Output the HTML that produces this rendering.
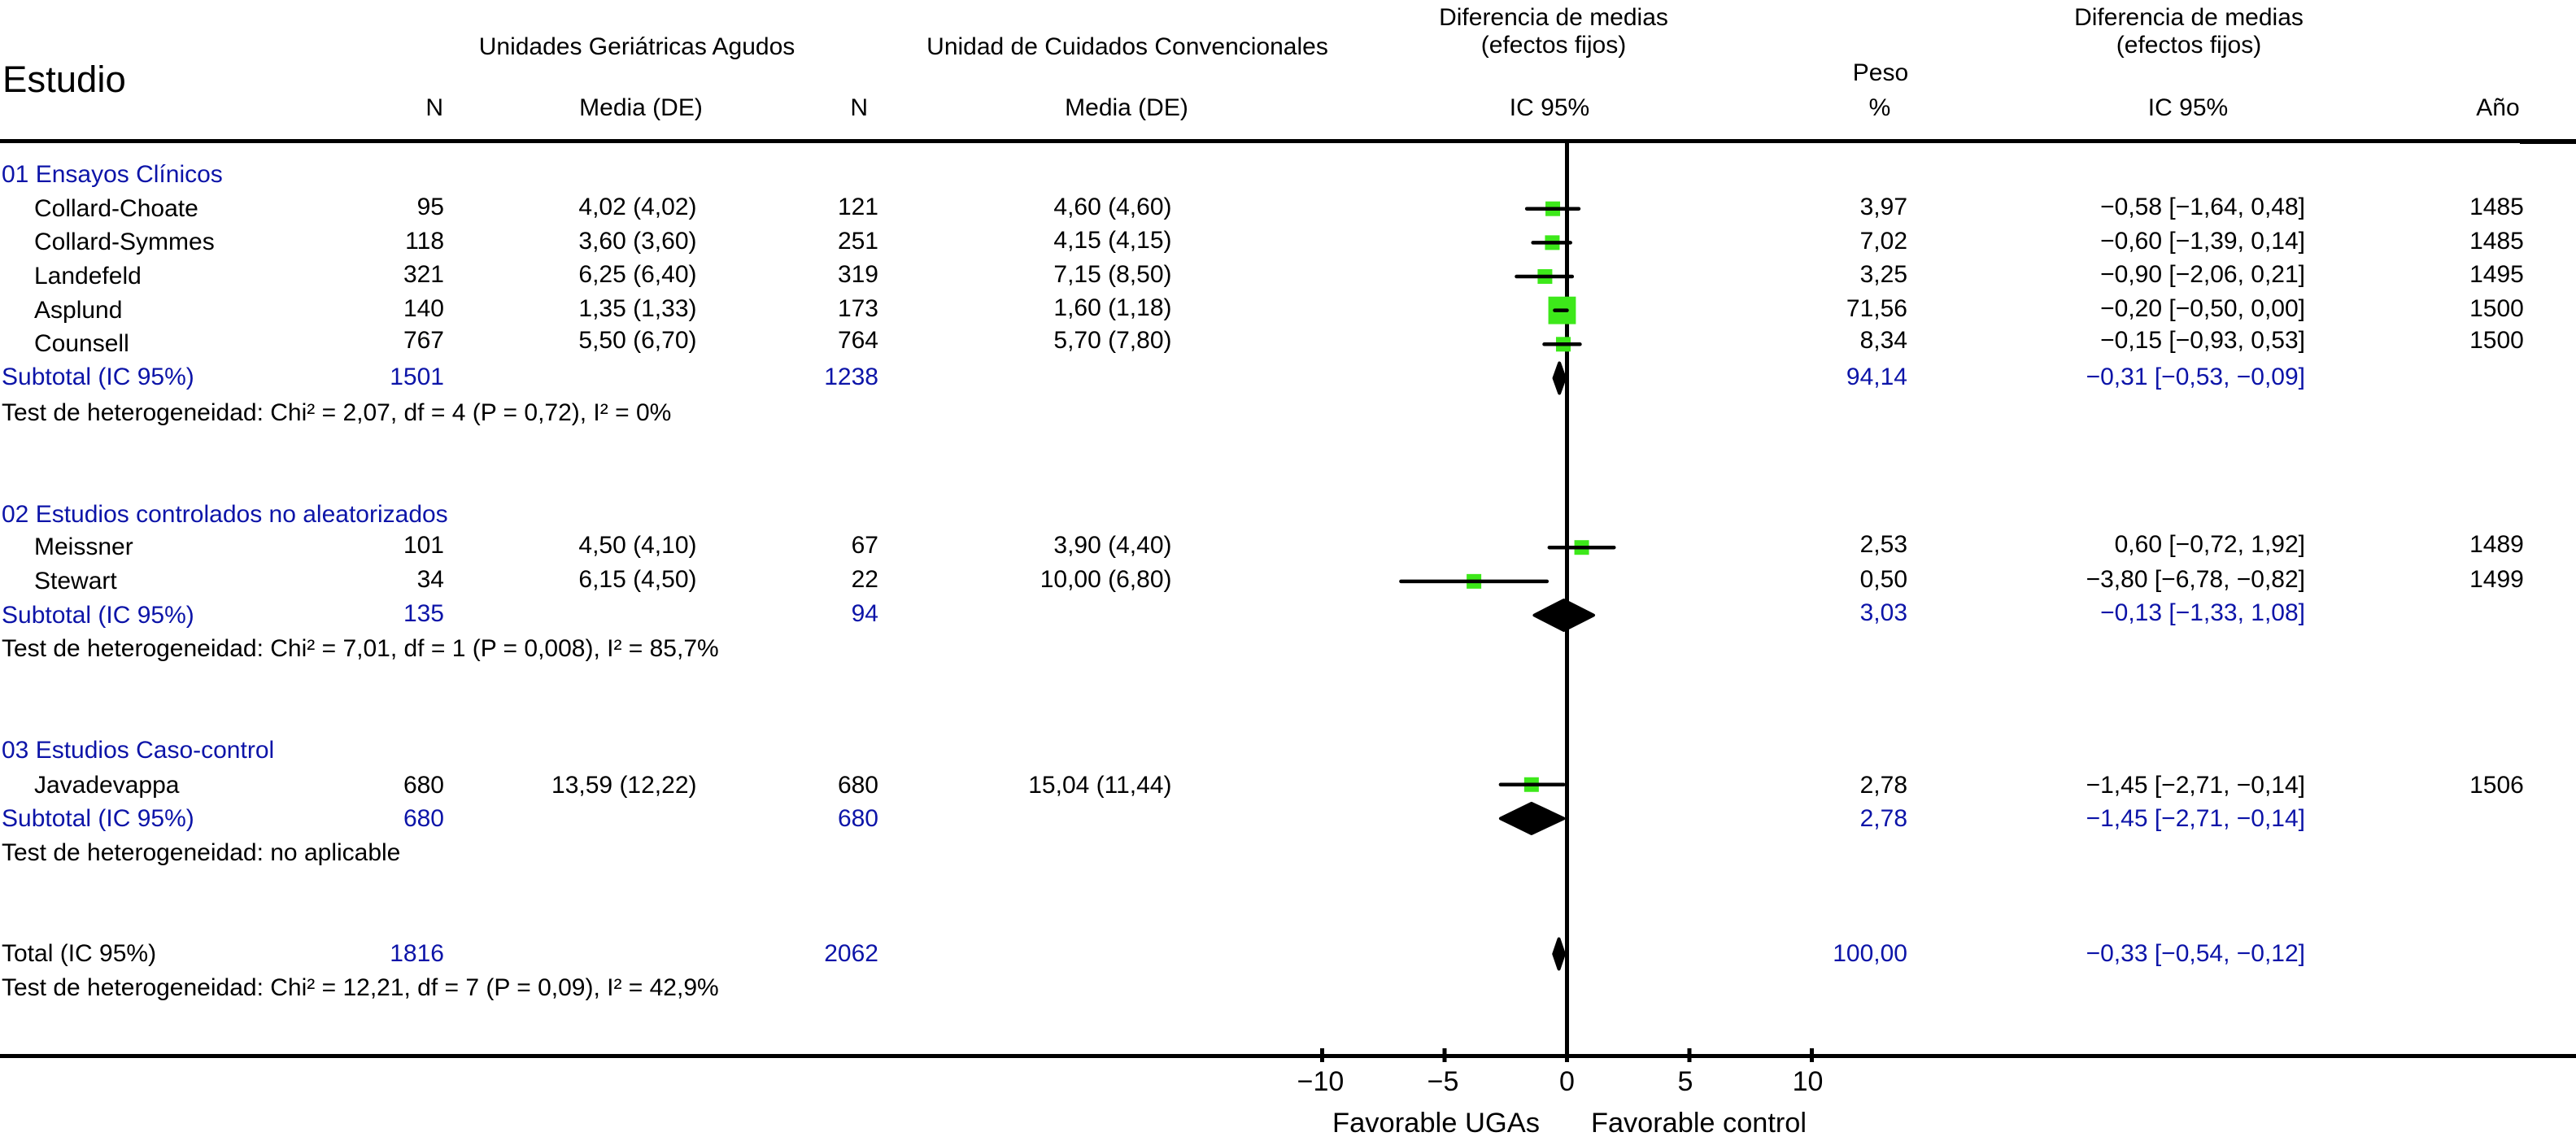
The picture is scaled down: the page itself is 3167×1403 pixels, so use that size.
<!DOCTYPE html>
<html lang="es">
<head>
<meta charset="utf-8">
<title>Diagrama de bosque</title>
<style>
html,body{margin:0;padding:0;background:#fff;}
svg{display:block;}
text{font-family:"Liberation Sans",Arial,sans-serif;font-size:30px;fill:#000;}
.b{fill:#0c14a8;}
.r{text-anchor:end;}
.m{text-anchor:middle;}
</style>
</head>
<body>
<svg id="forest" xmlns="http://www.w3.org/2000/svg" width="3167" height="1403" viewBox="0 0 3167 1403">
<rect x="0" y="0" width="3167" height="1403" fill="#fff"/>

<!-- header -->
<text x="3" y="113" style="font-size:45.5px">Estudio</text>
<text class="m" x="783" y="67">Unidades Geriátricas Agudos</text>
<text class="m" x="1386" y="67">Unidad de Cuidados Convencionales</text>
<text class="m" x="1910" y="31">Diferencia de medias</text>
<text class="m" x="1910" y="65">(efectos fijos)</text>
<text class="m" x="2691" y="31">Diferencia de medias</text>
<text class="m" x="2691" y="65">(efectos fijos)</text>
<text class="m" x="2312" y="99">Peso</text>
<text class="r" x="545" y="142">N</text>
<text class="m" x="788" y="142">Media (DE)</text>
<text class="r" x="1067" y="142">N</text>
<text class="m" x="1385" y="142">Media (DE)</text>
<text class="m" x="1905" y="142">IC 95%</text>
<text class="m" x="2311" y="142">%</text>
<text class="m" x="2690" y="142">IC 95%</text>
<text class="m" x="3071" y="142">Año</text>

<!-- group 01 -->
<text class="b" x="2" y="224">01 Ensayos Clínicos</text>

<text x="42" y="266">Collard-Choate</text>
<text class="r" x="546" y="264">95</text>
<text class="r" x="856.5" y="264">4,02 (4,02)</text>
<text class="r" x="1080" y="264">121</text>
<text class="r" x="1440.5" y="264">4,60 (4,60)</text>
<text class="r" x="2345" y="264">3,97</text>
<text class="r" x="2834" y="264">−0,58 [−1,64, 0,48]</text>
<text class="m" x="3069.5" y="264">1485</text>

<text x="42" y="307">Collard-Symmes</text>
<text class="r" x="546" y="306">118</text>
<text class="r" x="856.5" y="306">3,60 (3,60)</text>
<text class="r" x="1080" y="306">251</text>
<text class="r" x="1440.5" y="305">4,15 (4,15)</text>
<text class="r" x="2345" y="306">7,02</text>
<text class="r" x="2834" y="306">−0,60 [−1,39, 0,14]</text>
<text class="m" x="3069.5" y="306">1485</text>

<text x="42" y="349">Landefeld</text>
<text class="r" x="546" y="347">321</text>
<text class="r" x="856.5" y="347">6,25 (6,40)</text>
<text class="r" x="1080" y="347">319</text>
<text class="r" x="1440.5" y="347">7,15 (8,50)</text>
<text class="r" x="2345" y="347">3,25</text>
<text class="r" x="2834" y="347">−0,90 [−2,06, 0,21]</text>
<text class="m" x="3069.5" y="347">1495</text>

<text x="42" y="391">Asplund</text>
<text class="r" x="546" y="389">140</text>
<text class="r" x="856.5" y="389">1,35 (1,33)</text>
<text class="r" x="1080" y="389">173</text>
<text class="r" x="1440.5" y="388">1,60 (1,18)</text>
<text class="r" x="2345" y="389">71,56</text>
<text class="r" x="2834" y="389">−0,20 [−0,50, 0,00]</text>
<text class="m" x="3069.5" y="389">1500</text>

<text x="42" y="432">Counsell</text>
<text class="r" x="546" y="428">767</text>
<text class="r" x="856.5" y="428">5,50 (6,70)</text>
<text class="r" x="1080" y="428">764</text>
<text class="r" x="1440.5" y="428">5,70 (7,80)</text>
<text class="r" x="2345" y="428">8,34</text>
<text class="r" x="2834" y="428">−0,15 [−0,93, 0,53]</text>
<text class="m" x="3069.5" y="428">1500</text>

<text class="b" x="2" y="473">Subtotal (IC 95%)</text>
<text class="b r" x="546" y="473">1501</text>
<text class="b r" x="1080" y="473">1238</text>
<text class="b r" x="2345" y="473">94,14</text>
<text class="b r" x="2834" y="473">−0,31 [−0,53, −0,09]</text>
<text x="2" y="517">Test de heterogeneidad: Chi² = 2,07, df = 4 (P = 0,72), I² = 0%</text>

<!-- group 02 -->
<text class="b" x="2" y="642">02 Estudios controlados no aleatorizados</text>

<text x="42" y="682">Meissner</text>
<text class="r" x="546" y="680">101</text>
<text class="r" x="856.5" y="680">4,50 (4,10)</text>
<text class="r" x="1080" y="680">67</text>
<text class="r" x="1440.5" y="680">3,90 (4,40)</text>
<text class="r" x="2345" y="679">2,53</text>
<text class="r" x="2834" y="679">0,60 [−0,72, 1,92]</text>
<text class="m" x="3069.5" y="679">1489</text>

<text x="42" y="724">Stewart</text>
<text class="r" x="546" y="722">34</text>
<text class="r" x="856.5" y="722">6,15 (4,50)</text>
<text class="r" x="1080" y="722">22</text>
<text class="r" x="1440.5" y="722">10,00 (6,80)</text>
<text class="r" x="2345" y="722">0,50</text>
<text class="r" x="2834" y="722">−3,80 [−6,78, −0,82]</text>
<text class="m" x="3069.5" y="722">1499</text>

<text class="b" x="2" y="766">Subtotal (IC 95%)</text>
<text class="b r" x="546" y="764">135</text>
<text class="b r" x="1080" y="764">94</text>
<text class="b r" x="2345" y="763">3,03</text>
<text class="b r" x="2834" y="763">−0,13 [−1,33, 1,08]</text>
<text x="2" y="807">Test de heterogeneidad: Chi² = 7,01, df = 1 (P = 0,008), I² = 85,7%</text>

<!-- group 03 -->
<text class="b" x="2" y="932">03 Estudios Caso-control</text>

<text x="42" y="975">Javadevappa</text>
<text class="r" x="546" y="975">680</text>
<text class="r" x="856.5" y="975">13,59 (12,22)</text>
<text class="r" x="1080" y="975">680</text>
<text class="r" x="1440.5" y="975">15,04 (11,44)</text>
<text class="r" x="2345" y="975">2,78</text>
<text class="r" x="2834" y="975">−1,45 [−2,71, −0,14]</text>
<text class="m" x="3069.5" y="975">1506</text>

<text class="b" x="2" y="1016">Subtotal (IC 95%)</text>
<text class="b r" x="546" y="1016">680</text>
<text class="b r" x="1080" y="1016">680</text>
<text class="b r" x="2345" y="1016">2,78</text>
<text class="b r" x="2834" y="1016">−1,45 [−2,71, −0,14]</text>
<text x="2" y="1058">Test de heterogeneidad: no aplicable</text>

<!-- total -->
<text x="2" y="1182">Total (IC 95%)</text>
<text class="b r" x="546" y="1182">1816</text>
<text class="b r" x="1080" y="1182">2062</text>
<text class="b r" x="2345" y="1182">100,00</text>
<text class="b r" x="2834" y="1182">−0,33 [−0,54, −0,12]</text>
<text x="2" y="1224">Test de heterogeneidad: Chi² = 12,21, df = 7 (P = 0,09), I² = 42,9%</text>

<!-- rules -->
<rect x="0" y="171" width="3167" height="5" fill="#000"/>
<rect x="3098" y="172" width="69" height="5" fill="#000"/>
<rect x="0" y="1296" width="3167" height="5" fill="#000"/>

<g id="plot"></g>

<text x="1638" y="1392" style="font-size:34.5px">Favorable UGAs</text>
<text x="1956" y="1392" style="font-size:34.3px">Favorable control</text>
</svg>

<script>
// study estimates
var studyNames = ["collard-choate","collard-symmes","landefeld","asplund","counsell","meissner","stewart","javadevappa"];
var studyRows = [0,1,2,3,4,10,11,17];
var studyMeans = [-0.58,-0.60,-0.90,-0.20,-0.15,0.60,-3.80,-1.45];
var studyLow = [-1.64,-1.39,-2.06,-0.50,-0.93,-0.72,-6.78,-2.71];
var studyHigh = [0.48,0.14,0.21,0.00,0.53,1.92,-0.82,-0.14];
var studyWeights = [3.97,7.02,3.25,71.56,8.34,2.53,0.50,2.78];
// pooled estimates
var pooledNames = ["subtotal-01","subtotal-02","subtotal-03","total"];
var pooledRows = [5,12,18,22];
var pooledMeans = [-0.31,-0.13,-1.45,-0.33];
var pooledLow = [-0.53,-1.33,-2.71,-0.54];
var pooledHigh = [-0.09,1.08,-0.14,-0.12];
// axis
var axisTicks = [-10,-5,0,5,10];
var axisTickLabels = ["−10","−5","0","5","10"];

var NS = "http://www.w3.org/2000/svg";
var plot = document.getElementById("plot");
function xScale(v){ return 1926.5 + 30.1 * v; }
function yScale(row){ return 256.7 + 41.65 * row; }
function make(tag, attrs){
  var el = document.createElementNS(NS, tag);
  for (var k in attrs) el.setAttribute(k, attrs[k]);
  plot.appendChild(el);
  return el;
}

var zero = make("rect", {x: xScale(0) - 2.5, y: 174, width: 5, height: 1124, fill: "#000"});



axisTicks.forEach(function(t, i){
  var tick = make("rect", {x: xScale(t) - 2.5, y: 1289, width: 5, height: 17, fill: "#000"});
  
  
  var nudge = t > 0 ? -5 : (t < 0 ? -2 : 0);
  var lab = make("text", {x: xScale(t) + nudge, y: 1341, "text-anchor": "middle", style: "font-size:34px"});
  lab.textContent = axisTickLabels[i];
  
  
});

studyNames.forEach(function(name, i){
  var y = yScale(studyRows[i]);
  var side = Math.max(18, 4 * Math.sqrt(studyWeights[i]));
  var square = make("rect", {x: xScale(studyMeans[i]) - side / 2, y: y - side / 2, width: side, height: side, fill: "#3de81a"});
  
  
  var ci = make("line", {x1: xScale(studyLow[i]), x2: xScale(studyHigh[i]), y1: y, y2: y, stroke: "#000", "stroke-width": 4.5, "stroke-linecap": "round"});
  
  
});

pooledNames.forEach(function(name, i){
  var y = yScale(pooledRows[i]);
  var pts = [
    [xScale(pooledLow[i]), y],
    [xScale(pooledMeans[i]), y - 18.5],
    [xScale(pooledHigh[i]), y],
    [xScale(pooledMeans[i]), y + 18.5]
  ].map(function(p){ return p.join(","); }).join(" ");
  var diamond = make("polygon", {points: pts, fill: "#000", stroke: "#000", "stroke-width": 4, "stroke-linejoin": "round"});
  
  
});
</script>
</body>
</html>
